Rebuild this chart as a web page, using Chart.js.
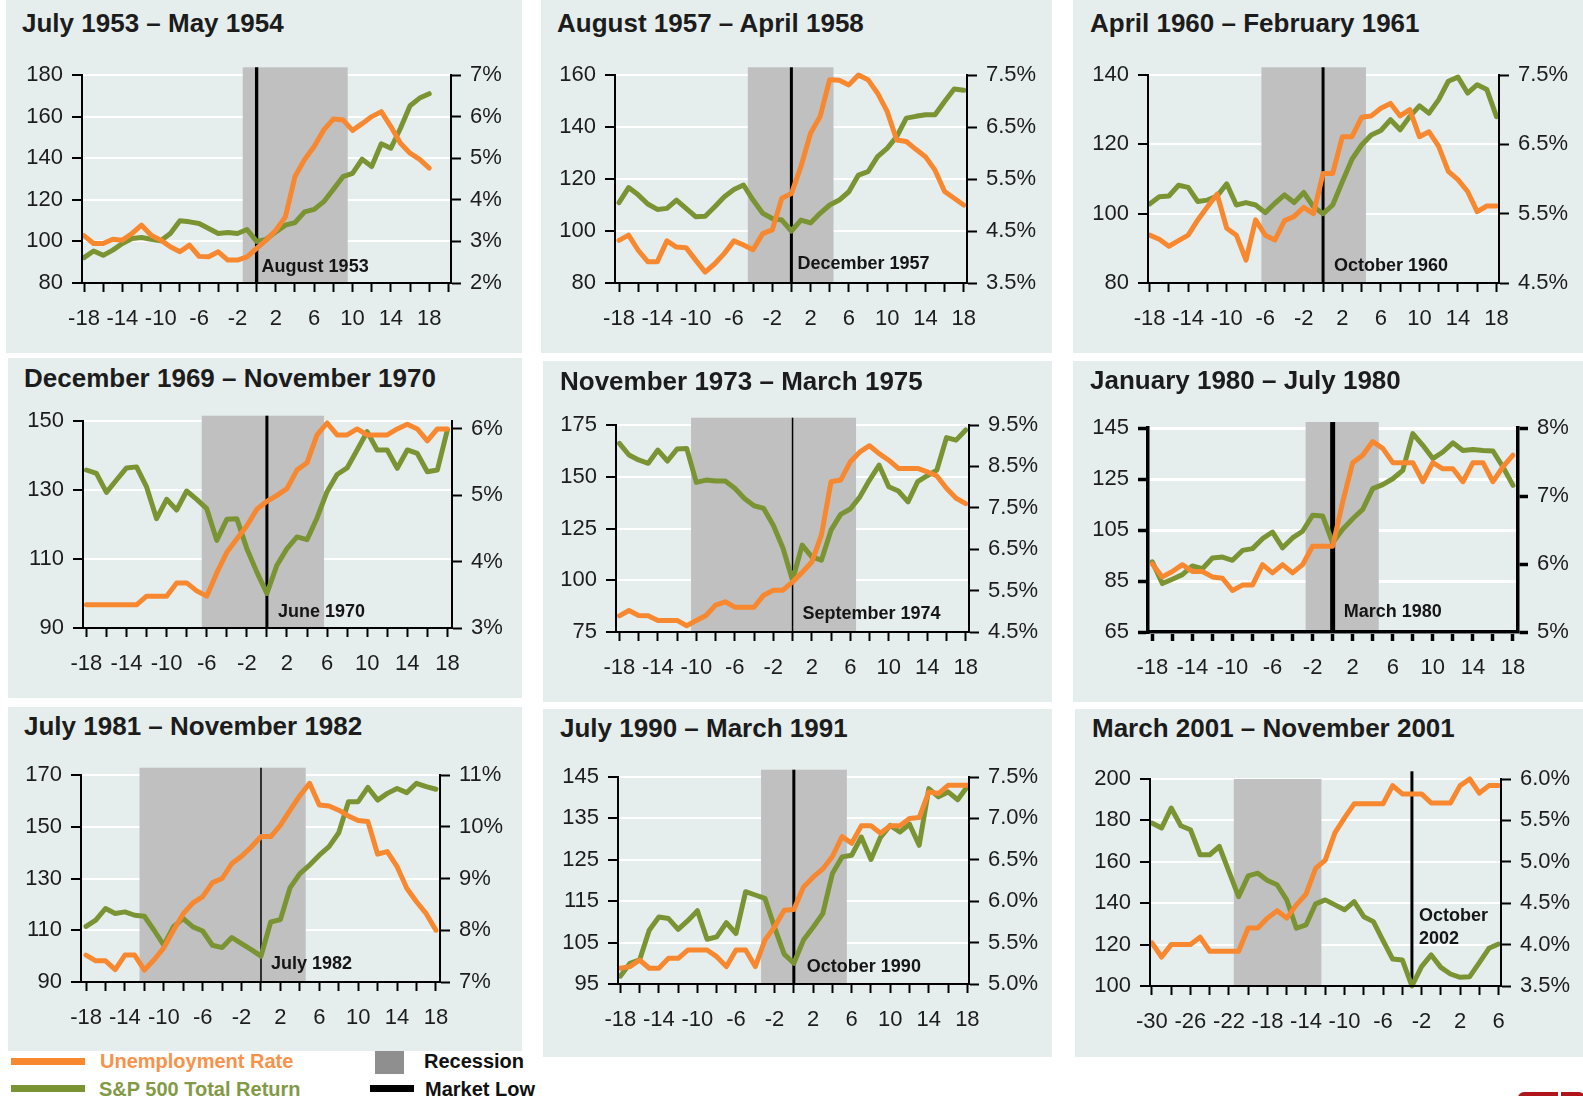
<!DOCTYPE html>
<html lang="en">
<head>
<meta charset="UTF-8">
<title>Unemployment Rate and S&amp;P 500 Around Market Lows</title>
<script src="https://cdn.jsdelivr.net/npm/chart.js"></script>
<style>
  body { margin: 0; background: #fff; }
  #page {
    position: relative; width: 1583px; height: 1096px; overflow: hidden; background: #fff;
    font-family: "Liberation Sans", Arial, Helvetica, sans-serif;
  }
  .panel { position: absolute; background: #e6eeed; }
  .title {
    position: absolute; font-weight: bold; font-size: 26px; line-height: 26px;
    color: #1c1c1c; white-space: nowrap;
  }
  canvas { position: absolute; }
  .legend-text { position: absolute; font-weight: bold; font-size: 20px; line-height: 20px; white-space: nowrap; }
  .swatch { position: absolute; }
</style>
</head>
<body>
<div id="page">
  <div class="swatch" style="left:11px;top:1058px;width:74px;height:7px;background:#f7882f;"></div>
  <div class="legend-text" style="left:100px;top:1051px;color:#f7924a;">Unemployment Rate</div>
  <div class="swatch" style="left:11px;top:1085px;width:74px;height:7px;background:#7a9433;"></div>
  <div class="legend-text" style="left:99px;top:1079px;color:#829a45;">S&amp;P 500 Total Return</div>
  <div class="swatch" style="left:375px;top:1050px;width:29px;height:24px;background:#8f8f8f;"></div>
  <div class="legend-text" style="left:424px;top:1051px;color:#111;">Recession</div>
  <div class="swatch" style="left:370px;top:1085px;width:44px;height:7px;background:#000;"></div>
  <div class="legend-text" style="left:425px;top:1079px;color:#111;">Market Low</div>
  <div class="swatch" style="left:1518px;top:1092px;width:40px;height:6px;background:#b0151c;border-top-left-radius:6px;"></div>
  <div class="swatch" style="left:1561px;top:1092px;width:24px;height:6px;background:#b0151c;border-top-right-radius:10px;"></div>
</div>

<script>
// months relative to the market low
const monthsStd = [-18,-17,-16,-15,-14,-13,-12,-11,-10,-9,-8,-7,-6,-5,-4,-3,-2,-1,0,1,2,3,4,5,6,7,8,9,10,11,12,13,14,15,16,17,18];
const months2001 = [-30,-29,-28,-27,-26,-25,-24,-23,-22,-21,-20,-19,-18,-17,-16,-15,-14,-13,-12,-11,-10,-9,-8,-7,-6,-5,-4,-3,-2,-1,0,1,2,3,4,5,6];

const titles = [
  'July 1953 – May 1954', 'August 1957 – April 1958', 'April 1960 – February 1961',
  'December 1969 – November 1970', 'November 1973 – March 1975', 'January 1980 – July 1980',
  'July 1981 – November 1982', 'July 1990 – March 1991', 'March 2001 – November 2001'
];
const lowLabels = [
  ['August 1953'], ['December 1957'], ['October 1960'],
  ['June 1970'], ['September 1974'], ['March 1980'],
  ['July 1982'], ['October 1990'], ['October', '2002']
];
const recessions = [[-1.45, 9.5], [-4.55, 4.4], [-6.4, 4.45], [-6.5, 5.7], [-10.55, 6.6], [-2.7, 4.6], [-12.5, 4.6], [-3.4, 5.5], [-21.5, -12.4]];
const marketLows = [0, 0, 0, 0, 0, 0, 0, 0, -3];

// S&P 500 total return (index = 100 at market low)
const sp1953 = [92.2,95.4,93.3,95.8,99.0,101.4,101.9,101.0,100.3,103.8,109.9,109.4,108.6,106.2,103.8,104.3,103.8,105.7,100.0,101.0,104.6,107.8,109.0,114.2,115.4,119.1,125.0,131.1,132.7,139.5,136.0,146.9,144.8,154.4,165.2,168.9,171.0];
const sp1957 = [110.9,116.7,113.9,110.4,108.3,108.7,111.9,108.7,105.5,105.7,109.3,113.2,116.0,117.7,111.9,106.8,104.8,104.2,100.0,104.2,103.1,106.8,110.0,111.9,115.1,121.5,122.8,128.6,131.8,136.3,143.4,144.1,144.7,144.7,149.8,154.6,154.1];
const sp1960 = [102.8,104.9,105.1,108.2,107.6,103.5,103.9,105.1,108.6,102.5,103.2,102.5,100.3,103.0,105.4,103.2,106.1,102.0,100.0,102.5,109.2,115.7,119.8,122.7,124.0,127.1,124.2,128.0,131.1,129.0,132.9,138.2,139.4,134.8,137.2,135.8,128.0];
const sp1970 = [135.8,134.8,129.3,132.9,136.4,136.7,130.9,121.7,127.3,124.2,129.7,127.3,124.6,115.4,121.5,121.7,113.0,106.2,100.0,108.2,113.0,116.4,115.6,121.9,129.5,134.5,136.4,141.6,146.9,141.6,141.6,136.3,141.6,140.6,135.3,135.8,147.4];
const sp1974 = [166.1,160.5,158.1,156.5,162.9,157.6,163.4,163.7,147.3,148.4,147.9,147.9,144.4,139.5,136.0,134.7,126.6,115.6,100.0,117.0,111.3,109.7,124.2,131.8,134.4,140.3,148.4,155.6,145.2,143.1,137.9,147.6,150.5,153.2,168.9,167.7,172.6];
const sp1980 = [92.5,84.0,85.7,87.5,90.9,89.8,94.0,94.4,93.1,97.0,97.7,101.6,104.2,98.0,101.9,104.5,110.8,110.5,100.0,105.3,109.4,113.1,121.2,122.8,125.1,128.4,142.8,138.2,133.0,135.6,139.2,136.2,136.6,136.2,136.0,129.7,122.5];
const sp1982 = [111.5,113.9,118.4,116.5,117.1,115.8,115.4,110.0,104.2,111.4,114.5,111.3,109.7,104.2,103.3,107.2,104.8,102.5,100.0,113.2,114.1,126.5,131.9,135.2,139.0,142.3,147.7,159.7,159.7,165.2,160.3,162.9,164.8,163.2,166.8,165.5,164.5];
const sp1990 = [96.9,100.0,100.8,108.0,111.2,110.8,108.2,110.3,112.7,105.8,106.4,109.8,107.2,117.3,116.5,115.7,108.7,102.2,100.0,105.6,108.7,112.0,121.7,125.7,126.1,130.5,125.1,130.5,133.3,131.7,133.6,128.5,142.2,140.2,141.4,139.5,142.7];
const sp2001 = [178.7,176.3,186.0,177.4,175.5,163.4,163.4,167.4,155.3,143.2,153.2,154.5,151.0,148.9,141.6,127.9,129.5,139.7,141.6,139.2,136.8,140.8,133.5,131.1,121.9,113.0,112.6,100.0,109.4,115.0,109.0,105.8,104.2,104.5,111.3,118.2,120.3];

// unemployment rate, %
const unemp1953 = [3.14,2.95,2.95,3.05,3.03,3.19,3.39,3.15,3.03,2.87,2.75,2.91,2.64,2.63,2.75,2.55,2.55,2.63,2.83,3.03,3.27,3.59,4.56,4.97,5.28,5.68,5.94,5.92,5.67,5.83,6.00,6.12,5.76,5.36,5.12,4.97,4.76];
const unemp1957 = [4.32,4.42,4.13,3.91,3.91,4.31,4.19,4.18,3.94,3.71,3.87,4.07,4.31,4.23,4.14,4.45,4.52,5.13,5.22,5.74,6.38,6.70,7.41,7.40,7.31,7.50,7.41,7.15,6.80,6.25,6.22,6.07,5.93,5.67,5.26,5.13,5.00];
const unemp1960 = [5.19,5.13,5.03,5.11,5.19,5.41,5.60,5.78,5.29,5.19,4.83,5.41,5.19,5.12,5.40,5.46,5.59,5.50,6.08,6.08,6.61,6.61,6.89,6.91,7.02,7.09,6.91,7.00,6.61,6.68,6.47,6.11,5.99,5.82,5.53,5.61,5.61];
const unemp1970 = [3.35,3.35,3.35,3.35,3.35,3.35,3.48,3.48,3.48,3.68,3.68,3.56,3.48,3.83,4.14,4.34,4.54,4.79,4.91,5.00,5.10,5.38,5.49,5.91,6.09,5.91,5.91,6.00,5.91,5.91,5.91,6.00,6.07,6.00,5.82,6.00,6.00];
const unemp1974 = [4.89,5.02,4.90,4.89,4.78,4.78,4.78,4.65,4.78,4.90,5.15,5.23,5.10,5.10,5.10,5.39,5.51,5.51,5.71,5.94,6.19,6.84,8.13,8.17,8.61,8.85,9.00,8.81,8.65,8.45,8.45,8.45,8.37,8.27,7.97,7.73,7.60];
const unemp1980 = [6.00,5.81,5.89,5.99,5.89,5.89,5.81,5.79,5.61,5.69,5.69,5.99,5.87,5.99,5.87,5.99,6.26,6.26,6.26,6.91,7.49,7.60,7.80,7.70,7.49,7.49,7.49,7.21,7.49,7.40,7.40,7.21,7.49,7.49,7.21,7.43,7.60];
const unemp1982 = [7.52,7.41,7.41,7.24,7.52,7.52,7.23,7.43,7.66,8.00,8.32,8.53,8.65,8.92,9.00,9.29,9.43,9.61,9.81,9.81,10.03,10.32,10.60,10.84,10.42,10.40,10.32,10.21,10.12,10.10,9.47,9.52,9.23,8.81,8.55,8.32,8.00];
const unemp1990 = [5.19,5.21,5.29,5.19,5.19,5.31,5.31,5.41,5.41,5.41,5.33,5.21,5.41,5.41,5.21,5.53,5.69,5.89,5.90,6.17,6.29,6.39,6.54,6.78,6.70,6.91,6.91,6.82,6.91,6.91,7.00,7.01,7.32,7.30,7.40,7.40,7.40];
const unemp2001 = [4.02,3.85,4.00,4.00,4.00,4.09,3.92,3.92,3.92,3.92,4.20,4.20,4.32,4.41,4.32,4.48,4.61,4.92,5.02,5.35,5.53,5.70,5.70,5.70,5.70,5.92,5.82,5.82,5.82,5.71,5.71,5.71,5.92,6.00,5.83,5.92,5.92];

// tick values
const xTicksStd = [-18,-16,-14,-12,-10,-8,-6,-4,-2,0,2,4,6,8,10,12,14,16,18,20];
const xLabelsStd = [-18,-14,-10,-6,-2,2,6,10,14,18];
const xTicks2001 = [-30,-28,-26,-24,-22,-20,-18,-16,-14,-12,-10,-8,-6,-4,-2,0,2,4,6];
const xLabels2001 = [-30,-26,-22,-18,-14,-10,-6,-2,2,6];
const leftTicks = [
  [80,100,120,140,160,180], [80,100,120,140,160], [80,100,120,140],
  [90,110,130,150], [75,100,125,150,175], [65,85,105,125,145],
  [90,110,130,150,170], [95,105,115,125,135,145], [100,120,140,160,180,200]
];
const rightTicks = [
  [2,3,4,5,6,7], [3.5,4.5,5.5,6.5,7.5], [4.5,5.5,6.5,7.5],
  [3,4,5,6], [4.5,5.5,6.5,7.5,8.5,9.5], [5,6,7,8],
  [7,8,9,10,11], [5.0,5.5,6.0,6.5,7.0,7.5], [3.5,4.0,4.5,5.0,5.5,6.0]
];
const rightDecimals = [0,1,1,0,1,0,0,1,1];

const months = [monthsStd, monthsStd, monthsStd, monthsStd, monthsStd, monthsStd, monthsStd, monthsStd, months2001];
const spSeries = [sp1953, sp1957, sp1960, sp1970, sp1974, sp1980, sp1982, sp1990, sp2001];
const unempSeries = [unemp1953, unemp1957, unemp1960, unemp1970, unemp1974, unemp1980, unemp1982, unemp1990, unemp2001];
const xTicks = [xTicksStd, xTicksStd, xTicksStd, xTicksStd, xTicksStd, xTicksStd, xTicksStd, xTicksStd, xTicks2001];
const xLabels = [xLabelsStd, xLabelsStd, xLabelsStd, xLabelsStd, xLabelsStd, xLabelsStd, xLabelsStd, xLabelsStd, xLabels2001];

// page layout: panel boxes, title spots, plot areas
const panels = [
  {bg:[6,0,516,353],    tx:22,   ty:10,  L:82,   T:75,  R:451,  B:283, xMin:-18.21, xMax:20.27, ext:7.7, lowExt:7.7, lowW:3.3, dx:5,  dy:[16]},
  {bg:[541,0,511,353],  tx:557,  ty:10,  L:615,  T:75,  R:967,  B:283, xMin:-18.42, xMax:18.34, ext:7.7, lowExt:7.7, lowW:3,   dx:6,  dy:[19]},
  {bg:[1073,0,510,353], tx:1090, ty:10,  L:1148, T:75,  R:1499, B:283, xMin:-18.17, xMax:18.26, ext:7.7, lowExt:7.7, lowW:3,   dx:11, dy:[17]},
  {bg:[8,358,514,340],  tx:24,   ty:365, L:83,   T:421, R:452,  B:628, xMin:-18.34, xMax:18.46, ext:5.3, lowExt:5.3, lowW:3,   dx:11, dy:[16], rMax:6.12},
  {bg:[543,361,509,341],tx:560,  ty:368, L:616,  T:425, R:969,  B:632, xMin:-18.35, xMax:18.34, ext:7.3, lowExt:7.3, lowW:1.5, dx:10, dy:[18]},
  {bg:[1073,361,510,341],tx:1090,ty:367, L:1148, T:428, R:1518, B:632, xMin:-18.43, xMax:18.5,  ext:6,   lowExt:6,   lowW:5,   dx:11, dy:[20], axisW:3.5, gridW:3},
  {bg:[8,707,514,344],  tx:24,   ty:713, L:81,   T:775, R:440,  B:982, xMin:-18.52, xMax:18.42, ext:7.3, lowExt:7.3, lowW:1.5, dx:10, dy:[18]},
  {bg:[543,709,509,348],tx:560,  ty:715, L:618,  T:777, R:969,  B:984, xMin:-18.24, xMax:18.17, ext:7.3, lowExt:7.3, lowW:3,   dx:13, dy:[17]},
  {bg:[1075,709,508,348],tx:1092,ty:715, L:1150, T:779, R:1501, B:986, xMin:-30.2,  xMax:6.25,  ext:0,   lowExt:7.7, lowW:3,   dx:7,  dy:[70,47]}
];

const FONT = '"Liberation Sans", Arial, Helvetica, sans-serif';
const ORANGE = '#f7882f';
const GREEN = '#7a9433';
const PAD_L = 80, PAD_R = 90, PAD_T = 30, PAD_B = 55;

// recession band, market-low line and its label
const marketLowPlugin = {
  id: 'marketLow',
  beforeDatasetsDraw(chart, args, opts) {
    const i = opts.idx;
    const p = panels[i];
    const {ctx, chartArea: a} = chart;
    const x = chart.scales.x;
    const r = recessions[i];
    const x0 = x.getPixelForValue(r[0]);
    const x1 = x.getPixelForValue(r[1]);
    ctx.save();
    ctx.fillStyle = '#c0c0c0';
    ctx.fillRect(x0, a.top - p.ext, x1 - x0, a.bottom - a.top + p.ext);

    const xl = x.getPixelForValue(marketLows[i]);
    ctx.strokeStyle = '#000';
    ctx.lineWidth = p.lowW;
    ctx.beginPath();
    ctx.moveTo(xl, a.top - p.lowExt);
    ctx.lineTo(xl, a.bottom);
    ctx.stroke();

    ctx.fillStyle = '#151515';
    ctx.font = 'bold 18px ' + FONT;
    ctx.textAlign = 'left';
    ctx.textBaseline = 'middle';
    lowLabels[i].forEach((t, k) => ctx.fillText(t, xl + p.dx, a.bottom - p.dy[k]));
    ctx.restore();
  }
};

const page = document.getElementById('page');
const tickFont = {family: FONT, size: 22};

panels.forEach((p, i) => {
  const bg = document.createElement('div');
  bg.className = 'panel';
  bg.style.left = p.bg[0] + 'px';
  bg.style.top = p.bg[1] + 'px';
  bg.style.width = p.bg[2] + 'px';
  bg.style.height = p.bg[3] + 'px';
  page.appendChild(bg);

  const t = document.createElement('div');
  t.className = 'title';
  t.textContent = titles[i];
  t.style.left = p.tx + 'px';
  t.style.top = p.ty + 'px';
  page.appendChild(t);

  const w = p.R - p.L + PAD_L + PAD_R;
  const h = p.B - p.T + PAD_T + PAD_B;
  const c = document.createElement('canvas');
  c.width = w;
  c.height = h;
  c.style.left = (p.L - PAD_L) + 'px';
  c.style.top = (p.T - PAD_T) + 'px';
  c.style.width = w + 'px';
  c.style.height = h + 'px';
  page.appendChild(c);

  const axisW = p.axisW || 2;
  const gridW = p.gridW || 2;
  const lt = leftTicks[i], rt = rightTicks[i];

  new Chart(c, {
    type: 'line',
    data: {
      datasets: [
        {
          label: 'Unemployment Rate',
          yAxisID: 'y1',
          data: months[i].map((m, k) => ({x: m, y: unempSeries[i][k]})),
          borderColor: ORANGE, borderWidth: 5, pointRadius: 0, tension: 0,
          borderJoinStyle: 'round', borderCapStyle: 'round', clip: false
        },
        {
          label: 'S&P 500 Total Return',
          yAxisID: 'y',
          data: months[i].map((m, k) => ({x: m, y: spSeries[i][k]})),
          borderColor: GREEN, borderWidth: 5, pointRadius: 0, tension: 0,
          borderJoinStyle: 'round', borderCapStyle: 'round', clip: false
        }
      ]
    },
    options: {
      responsive: false,
      animation: false,
      devicePixelRatio: 1,
      events: [],
      layout: {padding: {top: PAD_T, left: 0, right: 0, bottom: 0}},
      plugins: {
        legend: {display: false},
        tooltip: {enabled: false},
        marketLow: {idx: i}
      },
      scales: {
        x: {
          type: 'linear', bounds: 'data', min: p.xMin, max: p.xMax,
          afterFit: s => { s.height = PAD_B; },
          afterBuildTicks: s => { s.ticks = xTicks[i].filter(v => v >= s.min && v <= s.max).map(v => ({value: v})); },
          grid: {drawOnChartArea: false, drawTicks: true, tickLength: 9, tickColor: '#000', tickWidth: axisW},
          border: {display: true, color: '#000', width: axisW, z: 1},
          ticks: {
            autoSkip: false, maxRotation: 0, padding: 14, font: tickFont, color: '#1c1c1c',
            callback: v => xLabels[i].includes(v) ? String(v) : ''
          }
        },
        y: {
          type: 'linear', position: 'left', bounds: 'data', min: lt[0], max: lt[lt.length - 1],
          afterFit: s => { s.width = PAD_L; },
          afterBuildTicks: s => { s.ticks = lt.map(v => ({value: v})); },
          grid: {color: '#ffffff', lineWidth: gridW, tickLength: 10, tickColor: '#000', tickWidth: axisW},
          border: {display: true, color: '#000', width: axisW, z: 1},
          ticks: {padding: 9, font: tickFont, color: '#1c1c1c', callback: v => String(v)}
        },
        y1: {
          type: 'linear', position: 'right', bounds: 'data', min: rt[0], max: p.rMax || rt[rt.length - 1],
          afterFit: s => { s.width = PAD_R; },
          afterBuildTicks: s => { s.ticks = rt.map(v => ({value: v})); },
          grid: {drawOnChartArea: false, tickLength: 10, tickColor: '#000', tickWidth: axisW},
          border: {display: true, color: '#000', width: axisW, z: 1},
          ticks: {padding: 9, font: tickFont, color: '#1c1c1c', callback: v => v.toFixed(rightDecimals[i]) + '%'}
        }
      }
    },
    plugins: [marketLowPlugin]
  });
});
</script>
</body>
</html>
